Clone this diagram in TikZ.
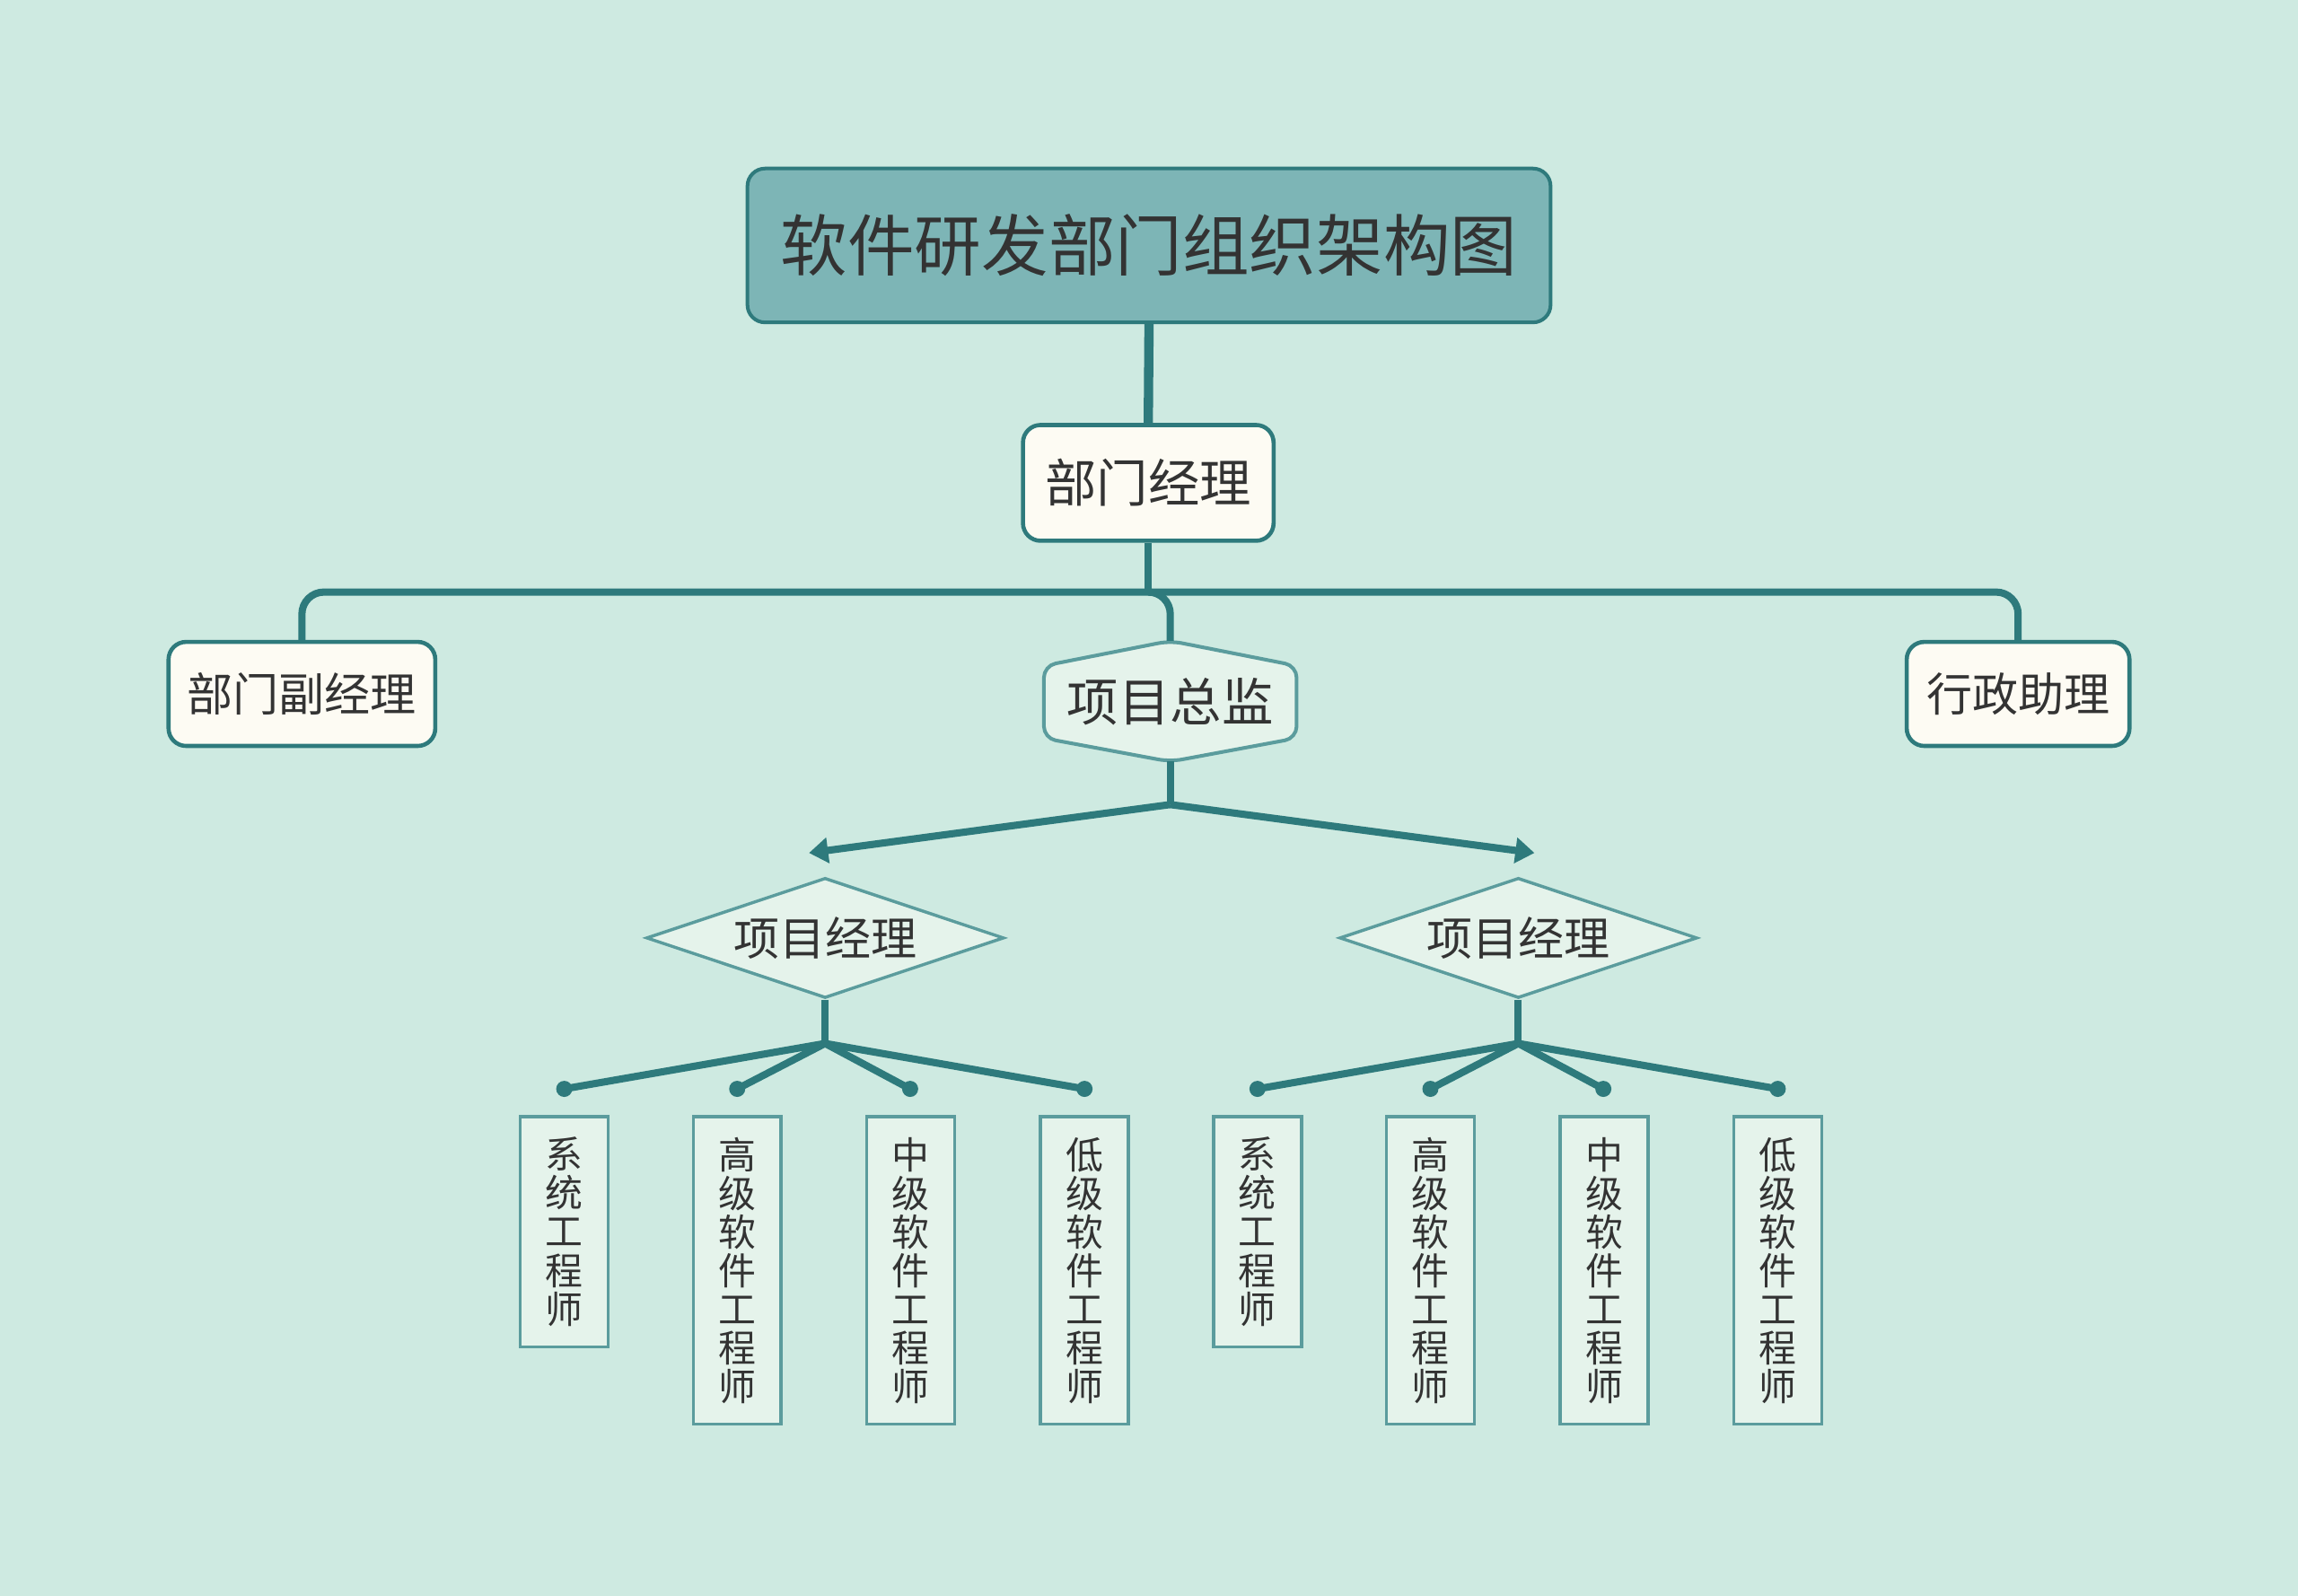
\documentclass[tikz,border=0pt]{standalone}
\usepackage{fontspec}
\setmainfont{Noto Sans CJK SC}
\usetikzlibrary{shapes.geometric,arrows.meta,backgrounds}

\definecolor{bgmint}{HTML}{CEEAE1}
\definecolor{tealdark}{HTML}{2E7A7C}
\definecolor{tealtitle}{HTML}{7DB5B6}
\definecolor{tealsoft}{HTML}{5B9C9D}
\definecolor{creambox}{HTML}{FDFBF3}
\definecolor{palebox}{HTML}{E5F3EB}
\definecolor{inkgray}{HTML}{333333}

\tikzset{
    conn/.style={draw=tealdark, line width=1.4pt},
    titlebox/.style={draw=tealdark, line width=0.7pt, fill=tealtitle, rounded corners=0.12cm,
        minimum width=5.48cm, minimum height=1.05cm, text=inkgray, font=\fontsize{13}{15}\selectfont},
    mgrbox/.style={draw=tealdark, line width=0.8pt, fill=creambox, rounded corners=0.12cm,
        minimum height=0.71cm, text=inkgray, font=\fontsize{8.9}{10}\selectfont},
    pmbox/.style={diamond, aspect=3, inner sep=0pt, draw=tealsoft, line width=0.6pt, fill=palebox,
        minimum width=2.44cm, minimum height=0.82cm, text=inkgray, font=\fontsize{8.9}{10}\selectfont},
    engbox/.style={draw=tealsoft, line width=0.6pt, fill=palebox, minimum width=0.6cm, inner ysep=0.14cm,
        align=center, anchor=north, text=inkgray, font=\fontsize{7.3}{7.5}\selectfont},
    enddot/.style={circle, fill=tealdark, inner sep=0pt, minimum size=0.11cm},
}

\begin{document}
\begin{tikzpicture}
    % Background
    \begin{scope}[on background layer]
        \fill[bgmint] (0,0) rectangle (15.68,-10.89);
    \end{scope}
    \useasboundingbox (0,0) rectangle (15.68,-10.89);

    % Title
    \node[titlebox] (title) at (7.84,-1.675) {软件研发部门组织架构图};

    % Department manager
    \node[mgrbox, minimum width=1.71cm, minimum height=0.79cm, font=\fontsize{10}{12}\selectfont] (jl) at (7.835,-3.295) {部门经理};
    \draw[conn, line width=1.8pt] (title.south) -- (jl.north);

    % Second level
    \node[mgrbox, minimum width=1.82cm] (fjl) at (2.06,-4.735) {部门副经理};
    \node[mgrbox, minimum width=1.52cm] (zl) at (13.77,-4.735) {行政助理};
    \node[minimum width=1.71cm, minimum height=0.81cm, inner sep=0pt, text=inkgray, font=\fontsize{10}{12}\selectfont] (xz) at (7.985,-4.785) {项目总监};
    \begin{scope}[on background layer]
        \draw[draw=tealsoft, line width=0.7pt, fill=palebox, rounded corners=0.08cm]
            (xz.north) -- ([yshift=-0.17cm]xz.north west) -- ([yshift=0.16cm]xz.south west)
            -- (xz.south) -- ([yshift=0.16cm]xz.south east) -- ([yshift=-0.17cm]xz.north east) -- cycle;
    \end{scope}

    % Bus under the manager
    \coordinate (bus) at (7.835,-4.04);
    \draw[conn] (jl.south) -- (bus);
    \draw[conn, rounded corners=0.15cm] (bus) -| (fjl.north);
    \draw[conn, rounded corners=0.15cm] (bus) -| (zl.north);
    \draw[conn, rounded corners=0.15cm] (bus) -| (xz.north);

    % Arrows to project managers
    \coordinate (fork) at (7.985,-5.49);
    \coordinate (tipl) at (5.52,-5.82);
    \coordinate (tipr) at (10.47,-5.82);
    \draw[conn] (xz.south) -- (fork);
    \draw[conn, -{Triangle[width=0.17cm, length=0.13cm]}] (fork) -- (tipl);
    \draw[conn, -{Triangle[width=0.17cm, length=0.13cm]}] (fork) -- (tipr);

    % Project managers
    \node[pmbox] (pm1) at (5.63,-6.40) {项目经理};
    \node[pmbox] (pm2) at (10.36,-6.40) {项目经理};

    % Team of the left project manager
    \coordinate (j1) at (5.63,-7.12);
    \draw[conn] (pm1.south) -- (j1);
    \foreach \x [count=\i] in {3.85,5.03,6.21,7.40} {
        \node[enddot] (a\i) at (\x,-7.43) {};
        \draw[conn] (j1) -- (a\i.center);
    }
    \node[engbox] (e1) at (3.85,-7.61) {系\\统\\工\\程\\师};
    \node[engbox] (e2) at (5.03,-7.61) {高\\级\\软\\件\\工\\程\\师};
    \node[engbox] (e3) at (6.215,-7.61) {中\\级\\软\\件\\工\\程\\师};
    \node[engbox] (e4) at (7.40,-7.61) {低\\级\\软\\件\\工\\程\\师};

    % Team of the right project manager
    \coordinate (j2) at (10.36,-7.12);
    \draw[conn] (pm2.south) -- (j2);
    \foreach \x [count=\i] in {8.58,9.76,10.94,12.13} {
        \node[enddot] (b\i) at (\x,-7.43) {};
        \draw[conn] (j2) -- (b\i.center);
    }
    \node[engbox] (f1) at (8.58,-7.61) {系\\统\\工\\程\\师};
    \node[engbox] (f2) at (9.76,-7.61) {高\\级\\软\\件\\工\\程\\师};
    \node[engbox] (f3) at (10.945,-7.61) {中\\级\\软\\件\\工\\程\\师};
    \node[engbox] (f4) at (12.13,-7.61) {低\\级\\软\\件\\工\\程\\师};
\end{tikzpicture}
\end{document}
